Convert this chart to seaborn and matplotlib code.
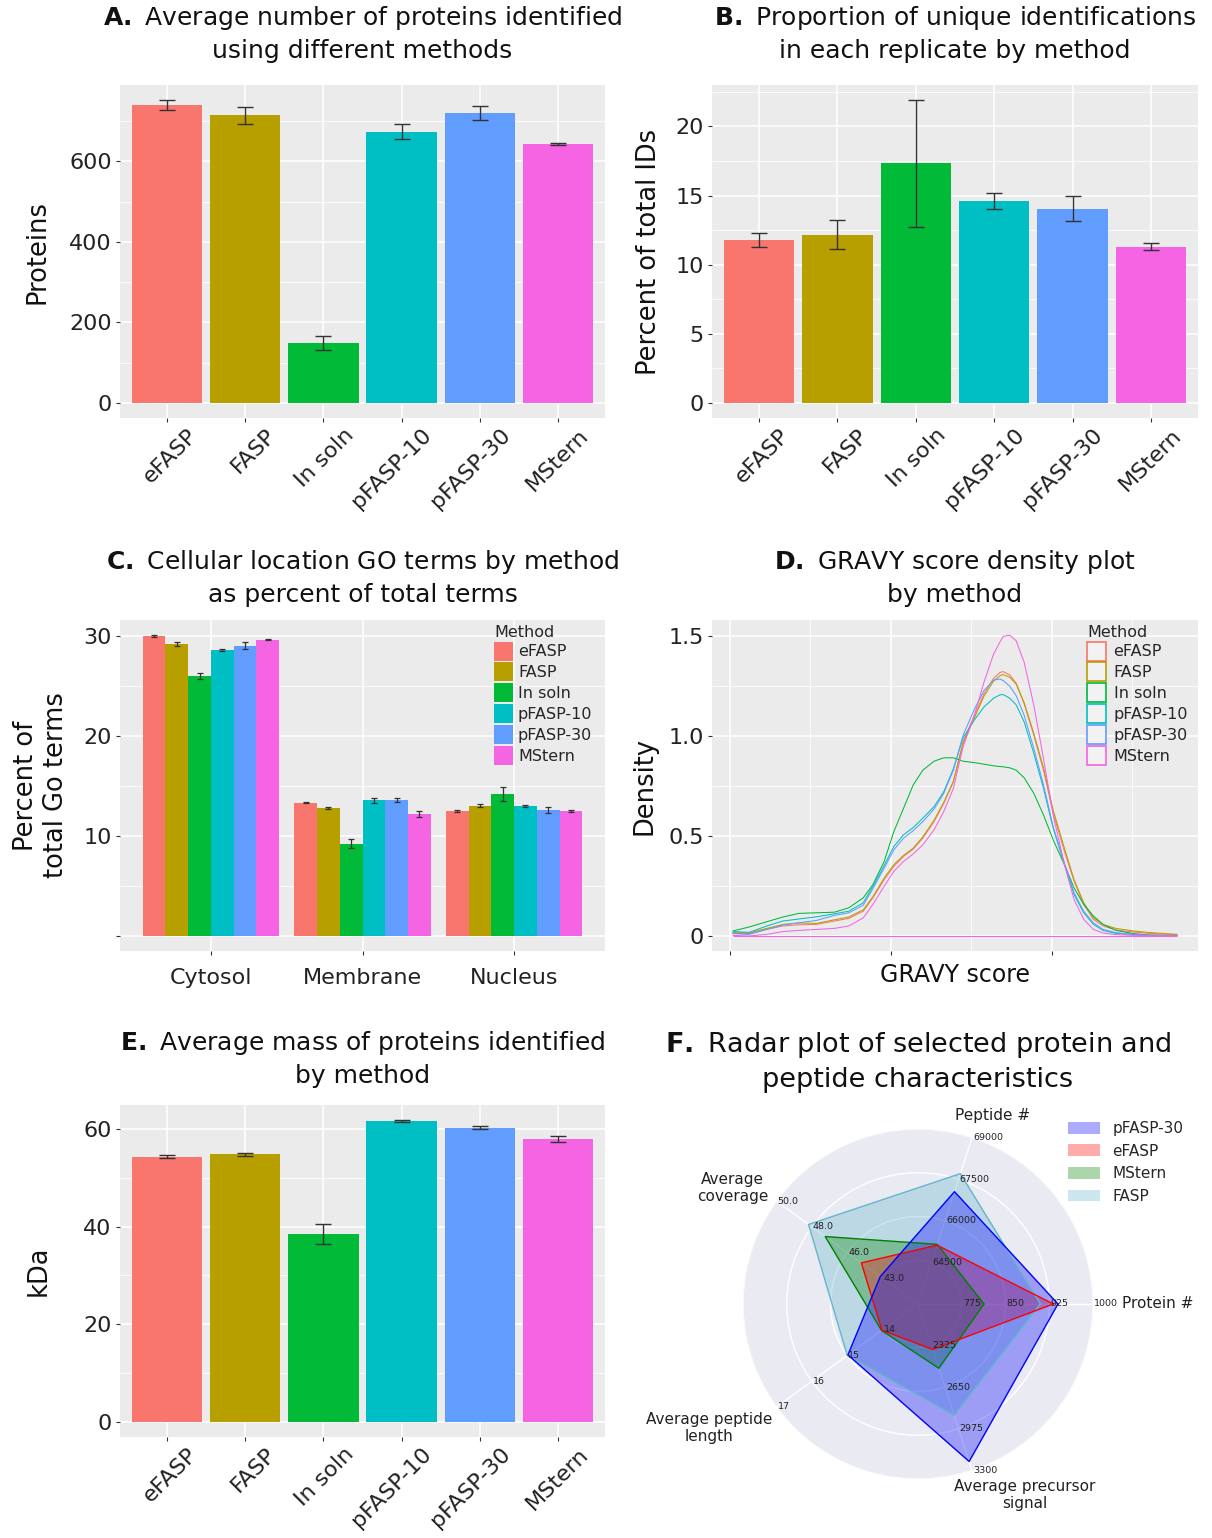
import numpy as np
import pandas as pd
import seaborn as sns
import matplotlib
matplotlib.use('Agg')
import matplotlib.pyplot as plt
from matplotlib.patches import Patch
from matplotlib.ticker import MultipleLocator
from matplotlib.transforms import ScaledTranslation

# ---- data ----
methods = ['eFASP', 'FASP', 'In soln', 'pFASP-10', 'pFASP-30', 'MStern']
palette = ['#F8766D', '#B79F00', '#00BA38', '#00BFC4', '#619CFF', '#F564E3']

# A. proteins identified
protein_mean = [741, 715, 149, 674, 721, 643]
protein_err = [12, 21, 17, 19, 18, 3]

# B. unique identifications (%)
unique_mean = [11.76, 12.15, 17.32, 14.61, 14.06, 11.30]
unique_err = [0.5, 1.05, 4.6, 0.6, 0.9, 0.25]

# C. GO cellular location (% of terms)
locations = ['Cytosol', 'Membrane', 'Nucleus']
go_cytosol = [29.97, 29.17, 25.99, 28.64, 29.04, 29.63]
go_cytosol_err = [0.1, 0.2, 0.3, 0.1, 0.36, 0.05]
go_membrane = [13.35, 12.85, 9.24, 13.58, 13.61, 12.22]
go_membrane_err = [0.05, 0.1, 0.45, 0.27, 0.2, 0.33]
go_nucleus = [12.52, 13.05, 14.21, 12.99, 12.62, 12.52]
go_nucleus_err = [0.1, 0.15, 0.7, 0.1, 0.3, 0.07]

# D. GRAVY density curves
gravy = [-1.98, -1.88, -1.77, -1.67, -1.57, -1.46, -1.35, -1.26, -1.17, -1.11,
         -1.04, -0.98, -0.92, -0.86, -0.80, -0.73, -0.67, -0.61, -0.55, -0.48,
         -0.42, -0.36, -0.32, -0.30, -0.26, -0.22, -0.17, -0.11, -0.05, 0.01,
         0.08, 0.14, 0.20, 0.26, 0.32, 0.40, 0.51, 0.61, 0.78]
dens_efasp = [0.013, 0.012, 0.033, 0.050, 0.056, 0.058, 0.075, 0.088, 0.124, 0.191,
              0.282, 0.348, 0.398, 0.434, 0.489, 0.572, 0.663, 0.771, 0.970, 1.103,
              1.211, 1.289, 1.318, 1.322, 1.305, 1.265, 1.161, 1.003, 0.829, 0.614,
              0.423, 0.274, 0.158, 0.083, 0.050, 0.030, 0.020, 0.013, 0.007]
dens_fasp = [0.017, 0.015, 0.038, 0.058, 0.065, 0.063, 0.081, 0.095, 0.131, 0.197,
             0.290, 0.357, 0.403, 0.439, 0.496, 0.579, 0.668, 0.774, 0.962, 1.090,
             1.199, 1.275, 1.302, 1.307, 1.294, 1.259, 1.166, 1.012, 0.841, 0.630,
             0.439, 0.282, 0.166, 0.091, 0.058, 0.038, 0.025, 0.017, 0.008]
dens_insoln = [0.025, 0.045, 0.071, 0.095, 0.113, 0.116, 0.119, 0.141, 0.191, 0.257,
               0.373, 0.522, 0.638, 0.755, 0.829, 0.874, 0.891, 0.891, 0.874, 0.867,
               0.859, 0.851, 0.847, 0.846, 0.841, 0.829, 0.791, 0.713, 0.605, 0.481,
               0.357, 0.240, 0.158, 0.100, 0.058, 0.028, 0.012, 0.005, 0.002]
dens_pfasp10 = [0.022, 0.018, 0.050, 0.075, 0.085, 0.096, 0.111, 0.124, 0.166, 0.249,
                0.353, 0.448, 0.506, 0.542, 0.589, 0.647, 0.721, 0.837, 0.990, 1.080,
                1.145, 1.189, 1.206, 1.207, 1.189, 1.156, 1.070, 0.912, 0.738, 0.539,
                0.357, 0.207, 0.116, 0.058, 0.028, 0.013, 0.007, 0.003, 0.002]
dens_pfasp30 = [0.012, 0.008, 0.033, 0.055, 0.066, 0.078, 0.103, 0.116, 0.154, 0.237,
                0.340, 0.431, 0.489, 0.527, 0.572, 0.635, 0.713, 0.829, 1.003, 1.133,
                1.227, 1.280, 1.285, 1.277, 1.249, 1.202, 1.103, 0.937, 0.755, 0.547,
                0.365, 0.216, 0.124, 0.066, 0.033, 0.017, 0.008, 0.003, 0.002]
dens_mstern = [0.003, 0.0, 0.008, 0.022, 0.028, 0.033, 0.038, 0.050, 0.091, 0.158,
               0.249, 0.323, 0.373, 0.410, 0.456, 0.531, 0.622, 0.738, 0.945, 1.103,
               1.269, 1.410, 1.471, 1.498, 1.504, 1.476, 1.368, 1.153, 0.887, 0.605,
               0.357, 0.182, 0.083, 0.033, 0.015, 0.007, 0.003, 0.002, 0.0]

# E. average mass (kDa)
mass_mean = [54.35, 54.83, 38.5, 61.56, 60.27, 57.89]
mass_err = [0.4, 0.3, 2.0, 0.2, 0.35, 0.6]

# F. radar
radar_axes = ['Protein #', 'Peptide #', 'Average\ncoverage',
              'Average peptide\nlength', 'Average precursor\nsignal']
radar_lo = [700, 63000, 41, 13, 2000]
radar_hi = [1000, 69000, 50, 17, 3300]
radar_ticklabels = [['775', '850', '925', '1000'],
                    ['64500', '66000', '67500', '69000'],
                    ['43.0', '46.0', '48.0', '50.0'],
                    ['14', '15', '16', '17'],
                    ['2325', '2650', '2975', '3300']]
radar_methods = ['pFASP-30', 'eFASP', 'MStern', 'FASP']
radar_colors = ['blue', 'red', 'green', 'c']
radar_pfasp30 = [940, 67050, 43.4, 14.98, 3230]
radar_efasp = [932, 65120, 44.6, 14.02, 2355]
radar_mstern = [813, 65150, 46.9, 14.03, 2502]
radar_fasp = [910, 67700, 47.96, 15.0, 2870]

# ---- style ----
sns.set_theme(style='darkgrid', rc={'axes.facecolor': '#EBEBEB', 'grid.color': 'white',
                                    'xtick.bottom': True, 'ytick.left': True})
plt.rcParams['font.family'] = ['DejaVu Sans']

W, H = 1212, 1538
fig = plt.figure(figsize=(W / 100, H / 100), dpi=100, facecolor='white')


def place(l, t, r, b, **kw):
    return fig.add_axes([l / W, 1 - b / H, (r - l) / W, (b - t) / H], **kw)


def gg(ax, ylim, major, minor):
    ax.set_facecolor('#EBEBEB')
    ax.set_ylim(*ylim)
    ax.yaxis.set_major_locator(MultipleLocator(major))
    ax.yaxis.set_minor_locator(MultipleLocator(minor))
    ax.grid(True, which='major', color='white', lw=1.1)
    ax.grid(True, which='minor', axis='y', color='white', lw=0.55)
    ax.tick_params(which='minor', length=0)
    ax.tick_params(which='major', length=3, width=0.8, color='#333333',
                   labelsize=16, labelcolor='#222222', pad=3)
    for s in ax.spines.values():
        s.set_visible(False)
    ax.set_axisbelow(True)


def panel_title(ax, letter, text, pad, size=18, spacing=1.37):
    ax.annotate(r'$\mathbf{' + letter + r'.}$ ' + text, xy=(0.5, 1), xycoords='axes fraction',
                xytext=(0, pad), textcoords='offset points', ha='center', va='bottom',
                fontsize=size, linespacing=spacing, color='#111111')


def ylab(ax, text, x):
    ax.set_ylabel(text, fontsize=18.5, color='#111111')
    ax.yaxis.set_label_coords(x, 0.5)


def tilt(ax):
    ax.tick_params(axis='x', pad=10)
    for lab in ax.get_xticklabels():
        lab.set_rotation(45)
        lab.set_ha('right')
        lab.set_va('center')
        lab.set_rotation_mode('anchor')
        lab.set_transform(lab.get_transform() + ScaledTranslation(0.27, 0.04, fig.dpi_scale_trans))


def method_bars(ax, means, errs, capsize=5.8):
    df = pd.DataFrame({'method': methods, 'value': means})
    sns.barplot(data=df, x='method', y='value', hue='method', order=methods, hue_order=methods,
                palette=palette, width=0.9, saturation=1, errorbar=None, legend=False,
                linewidth=0, ax=ax)
    bars = [b for c in ax.containers for b in c]
    xs = [b.get_x() + b.get_width() / 2 for b in bars]
    ys = [b.get_height() for b in bars]
    ax.errorbar(xs, ys, yerr=errs, fmt='none', ecolor='#333333', elinewidth=1,
                capsize=capsize, capthick=1)
    ax.set_xlim(-0.6, len(methods) - 0.4)
    ax.set_xlabel('')


# ---- A ----
axA = place(120, 85, 605, 418)
method_bars(axA, protein_mean, protein_err)
gg(axA, (-37.6, 790), 200, 100)
ylab(axA, 'Proteins', -0.144)
panel_title(axA, 'A', 'Average number of proteins identified\nusing different methods', 16)
tilt(axA)

# ---- B ----
axB = place(712, 85, 1198, 418)
method_bars(axB, unique_mean, unique_err)
gg(axB, (-1.1, 23.0), 5, 2.5)
ylab(axB, 'Percent of total IDs', -0.103)
panel_title(axB, 'B', 'Proportion of unique identifications\nin each replicate by method', 16)
tilt(axB)

# ---- C ----
axC = place(120, 620, 605, 951)
dfC = pd.DataFrame({
    'location': np.repeat(locations, len(methods)),
    'method': methods * 3,
    'pct': go_cytosol + go_membrane + go_nucleus,
    'err': go_cytosol_err + go_membrane_err + go_nucleus_err,
})
sns.barplot(data=dfC, x='location', y='pct', hue='method', order=locations, hue_order=methods,
            palette=palette, width=0.9, saturation=1, errorbar=None, legend=False,
            linewidth=0, ax=axC)
for cont, m in zip(axC.containers, methods):
    sub = dfC[dfC['method'] == m].set_index('location').loc[locations]
    xs = [b.get_x() + b.get_width() / 2 for b in cont]
    axC.errorbar(xs, sub['pct'], yerr=sub['err'], fmt='none', ecolor='#333333',
                 elinewidth=0.9, capsize=2.4, capthick=0.9)
axC.set_xlim(-0.6, 2.6)
axC.set_xlabel('')
gg(axC, (-1.5, 31.6), 10, 5)
axC.set_yticks([0, 10, 20, 30], ['', '10', '20', '30'])
axC.tick_params(axis='x', pad=9)
ylab(axC, 'Percent of\ntotal Go terms', -0.105)
panel_title(axC, 'C', 'Cellular location GO terms by method\nas percent of total terms', 9.5)
axC.legend([Patch(facecolor=c, edgecolor='none') for c in palette], methods,
           title='Method', loc='upper left', bbox_to_anchor=(0.771, 0.986),
           frameon=False, fontsize=11.5, title_fontsize=11.5, handlelength=1.2,
           handleheight=1.45, handletextpad=0.3, labelspacing=0.12, borderpad=0,
           borderaxespad=0, alignment='left')

# ---- D ----
axD = place(712, 620, 1198, 951)
dens = [dens_efasp, dens_fasp, dens_insoln, dens_pfasp10, dens_pfasp30, dens_mstern]
dfD = pd.DataFrame({
    'gravy': gravy * len(methods),
    'density': np.concatenate(dens),
    'method': np.repeat(methods, len(gravy)),
})
sns.lineplot(data=dfD, x='gravy', y='density', hue='method', hue_order=methods,
             palette=palette, lw=0.75, sort=False, estimator=None, legend=False, ax=axD)
axD.hlines(0, gravy[0], gravy[-1], color=palette[-1], lw=0.75)
gg(axD, (-0.075, 1.58), 0.5, 0.25)
axD.set_yticks([0, 0.5, 1.0, 1.5], ['0', '0.5', '1.0', '1.5'])
axD.set_xlim(-2.11, 0.91)
axD.xaxis.set_major_locator(MultipleLocator(1))
axD.xaxis.set_minor_locator(MultipleLocator(0.5))
axD.grid(True, which='minor', axis='x', color='white', lw=0.55)
axD.tick_params(axis='x', which='major', labelbottom=False)
axD.set_xlabel('GRAVY score', fontsize=17, color='#111111')
axD.xaxis.set_label_coords(0.5, -0.035)
ylab(axD, 'Density', -0.113)
panel_title(axD, 'D', 'GRAVY score density plot\nby method', 9.5)
axD.legend([Patch(facecolor='#F2F2F2', edgecolor=c, lw=1.2) for c in palette], methods,
           title='Method', loc='upper left', bbox_to_anchor=(0.772, 0.986),
           frameon=False, fontsize=11.5, title_fontsize=11.5, handlelength=1.2,
           handleheight=1.45, handletextpad=0.45, labelspacing=0.12, borderpad=0,
           borderaxespad=0, alignment='left')

# ---- E ----
axE = place(120, 1105, 605, 1437)
method_bars(axE, mass_mean, mass_err)
gg(axE, (-3.1, 64.9), 20, 10)
ylab(axE, 'kDa', -0.14)
panel_title(axE, 'E', 'Average mass of proteins identified\nby method', 12)
tilt(axE)

# ---- F radar ----
axF = place(743, 1129, 1093, 1479, projection='polar')
angles = np.deg2rad(np.arange(len(radar_axes)) * 72.0)
axF.set_facecolor('#EAEAF2')
axF.set_ylim(0, 1)
axF.set_xticks(angles, [''] * len(radar_axes))
axF.set_yticks([0.25, 0.5, 0.75, 1.0], [])
axF.grid(True, color='white', lw=1)
axF.spines['polar'].set_visible(False)
lo = np.array(radar_lo, float)
hi = np.array(radar_hi, float)
series = [radar_pfasp30, radar_efasp, radar_mstern, radar_fasp]
# drawn back to front: FASP first, pFASP-30 on top
for vals, col in list(zip(series, radar_colors))[::-1]:
    r = (np.array(vals, float) - lo) / (hi - lo)
    th = np.append(angles, angles[0])
    rr = np.append(r, r[0])
    axF.fill(th, rr, color=col, alpha=0.33, lw=0)
    axF.plot(th, rr, color=col, lw=1)
for ang, labs in zip(angles, radar_ticklabels):
    for frac, lab in zip([0.25, 0.5, 0.75, 1.0], labs):
        axF.annotate(lab, xy=(ang, frac), xytext=(0.8, 0), textcoords='offset points',
                     ha='left', va='center', fontsize=6.8, color='#222222', annotation_clip=False)
label_pos = [(0.0, 1.165, 'left'), (68.3, 1.16, 'center'), (147.9, 1.25, 'center'),
             (210.7, 1.39, 'center'), (299.3, 1.25, 'center')]
for name, (deg, rad, ha) in zip(radar_axes, label_pos):
    axF.text(np.deg2rad(deg), rad, name, ha=ha, va='center', fontsize=11,
             color='#222222', linespacing=1.2, clip_on=False)
axF.annotate(r'$\mathbf{F.}$ Radar plot of selected protein and' + '\npeptide characteristics',
             xy=(0.5, 1), xycoords='axes fraction', xytext=(0, 26), textcoords='offset points',
             ha='center', va='bottom', fontsize=19.5, linespacing=1.34, color='#111111')
axF.legend([Patch(facecolor=c, alpha=0.33, edgecolor='none') for c in radar_colors], radar_methods,
           loc='upper left', bbox_to_anchor=(1068 / W, 1 - 1121 / H), bbox_transform=fig.transFigure,
           frameon=False, fontsize=11, handlelength=2.1, handleheight=0.8, handletextpad=0.8,
           labelspacing=0.5, borderpad=0, borderaxespad=0)

fig.savefig('out.png', dpi=100, facecolor='white')
